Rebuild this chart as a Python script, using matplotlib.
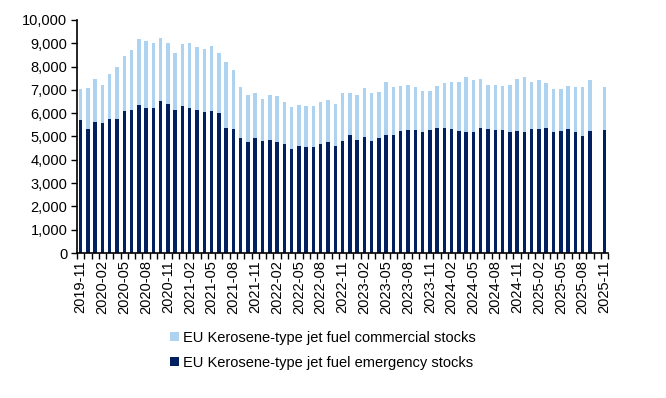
import numpy as np
import pandas as pd
import matplotlib
matplotlib.use("Agg")
import matplotlib.pyplot as plt

plt.rcParams['font.family'] = ['Liberation Sans', 'DejaVu Sans']

months = pd.period_range("2019-11", "2025-11", freq="M").strftime("%Y-%m").tolist()

emergency = [5700, 5320, 5610, 5570, 5740, 5740, 6080, 6130, 6340, 6210,
             6210, 6510, 6380, 6130, 6300, 6210, 6130, 6040, 6080, 6000,
             5350, 5310, 4920, 4750, 4920, 4790, 4840, 4750, 4660, 4450,
             4580, 4530, 4530, 4660, 4750, 4580, 4790, 5050, 4840, 4960,
             4790, 4920, 5050, 5050, 5220, 5270, 5270, 5180, 5270, 5350,
             5350, 5310, 5220, 5180, 5180, 5350, 5310, 5270, 5270, 5180,
             5220, 5180, 5310, 5310, 5350, 5180, 5220, 5310, 5180, 5010,
             5220, np.nan, 5270]

commercial = [1320, 1750, 1850, 1630, 1940, 2240, 2370, 2580, 2840, 2890,
              2800, 2710, 2630, 2450, 2670, 2800, 2710, 2710, 2800, 2580,
              2840, 2540, 2200, 2020, 1940, 1810, 1930, 1980, 1810, 1810,
              1760, 1770, 1770, 1810, 1810, 1800, 2070, 1810, 1930, 2110,
              2070, 1980, 2280, 2070, 1940, 1930, 1850, 1760, 1670, 1810,
              1940, 2020, 2110, 2370, 2240, 2110, 1890, 1930, 1890, 2020,
              2240, 2370, 2020, 2110, 1940, 1850, 1810, 1850, 1940, 2110,
              2200, np.nan, 1850]

label_commercial = "EU Kerosene-type jet fuel commercial stocks"
label_emergency = "EU Kerosene-type jet fuel emergency stocks"

c_light = "#ADD3F1"
c_dark = "#00205F"

fig = plt.figure(figsize=(6.66, 3.98), dpi=100)
ax = fig.add_axes([0.1156, 0.3643, 0.7974, 0.5857])

x = np.arange(len(months))
em = np.array(emergency, dtype=float)
co = np.array(commercial, dtype=float)
ok = ~np.isnan(em)

w = 0.48
ax.bar(x[ok], em[ok], width=w, color=c_dark, label=label_emergency)
ax.bar(x[ok], co[ok], bottom=em[ok], width=w, color=c_light, label=label_commercial)

ax.set_xlim(-0.5, len(months) - 0.5)
ax.set_ylim(0, 10000)
ax.set_yticks(np.arange(0, 10001, 1000))
ax.set_yticklabels([f"{v:,}" for v in range(0, 10001, 1000)], fontsize=10.5)

# boundary tick marks
ax.set_xticks(np.arange(-0.5, len(months), 1.0))
ax.set_xticklabels([])
ax.tick_params(axis='x', which='major', length=4, width=1, direction='out')
# labels every 3 months at centers
lab_idx = x[::3]
ax.set_xticks(lab_idx, minor=True)
ax.set_xticklabels([months[i] for i in lab_idx], minor=True, rotation=90, fontsize=10.5)
ax.tick_params(axis='x', which='minor', length=0, pad=5)
ax.tick_params(axis='y', length=4, width=1, direction='out', pad=3)

for s in ['top', 'right']:
    ax.spines[s].set_visible(False)
ax.spines['left'].set_linewidth(1.2)
ax.spines['bottom'].set_linewidth(1.2)

handles, labels = ax.get_legend_handles_labels()
fig.legend(handles[::-1], labels[::-1], loc='upper left',
           bbox_to_anchor=(0.247, 0.183), bbox_transform=fig.transFigure,
           frameon=False, fontsize=10.5, handlelength=0.6, handleheight=0.6,
           handletextpad=0.3, labelspacing=0.75, borderaxespad=0)

fig.savefig("out.png", dpi=100)
